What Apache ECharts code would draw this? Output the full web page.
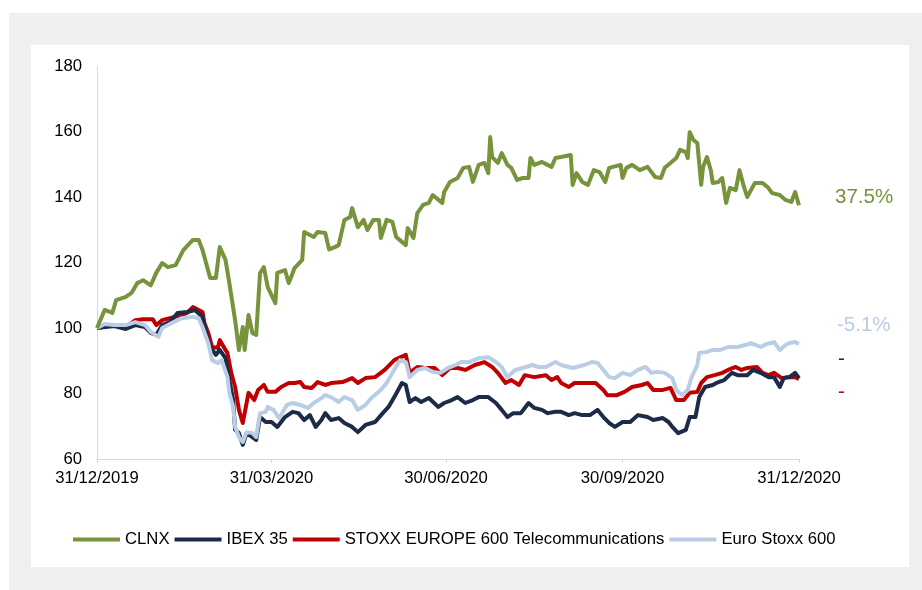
<!DOCTYPE html>
<html>
<head>
<meta charset="utf-8">
<title>CLNX vs indices 2020</title>
<script src="https://cdn.jsdelivr.net/npm/echarts@6/dist/echarts.min.js"></script>
<style>
    html, body { margin: 0; padding: 0; background: #fff; }
    #perfChart { width: 922px; height: 590px; }
</style>
</head>
<body>
<div id="perfChart"></div>
<script>
// x = days since 31/12/2019, y = rebased to 100
var tickDays = [0, 91, 182, 274, 366];
var tickLabels = ['31/12/2019', '31/03/2020', '30/06/2020', '30/09/2020', '31/12/2020'];
var seriesNames = ['CLNX', 'IBEX 35', 'STOXX EUROPE 600 Telecommunications', 'Euro Stoxx 600'];
var endLabels = ['37.5%', '-5.1%'];

var clnx = [[0,100],[4,105.5],[8,104.6],[10,108.5],[15,109.5],[18,110.7],[21,113.7],[24,114.6],[28,113],[31,117],
    [34,119.8],[37,118.6],[41,119.2],[45,123.8],[50,126.9],[53,126.9],[55,123.8],[59,115.3],[62,115.3],[64,124.7],
    [67,120.8],[69,113.7],[72,102.4],[74,93.3],[76,100.3],[77,93.3],[79,104],[81,98.5],[83,97.9],[85,116.8],
    [87,118.6],[89,112.5],[93,107.6],[94,116.8],[98,117.7],[100,113.7],[103,118.3],[107,120.8],[108,129.3],[113,127.8],
    [115,129.3],[119,129],[121,124],[124,124.7],[126,125.3],[129,133],[132,133.9],[133,136.6],[136,130.8],[139,133],
    [141,129.9],[144,133],[147,133],[148,127.5],[151,133],[154,132.4],[156,127.8],[161,125.3],[162,130.5],[165,127.5],
    [167,135.1],[170,137.6],[173,138.2],[175,140.6],[180,138.2],[181,141.5],[184,144.6],[188,145.8],[191,148.9],[194,149.2],
    [196,144.6],[199,149.8],[202,150.4],[204,147.3],[205,158.3],[206,152.2],[209,150.4],[211,153.4],[214,149.8],[216,148.9],
    [219,145.2],[222,145.8],[225,145.8],[226,151.9],[228,149.8],[232,150.7],[237,149.2],[239,151.9],[242,152.2],[247,152.8],
    [248,143.7],[250,147.3],[253,144.6],[256,143.7],[259,148.2],[262,147.6],[265,144.6],[267,148.9],[273,149.8],[274,145.8],
    [276,148.9],[279,149.8],[283,148.2],[287,149.2],[291,146.1],[294,145.8],[296,148.9],[299,150.4],[302,151.9],[304,154.4],
    [307,153.7],[308,151.9],[309,159.8],[311,157.4],[313,156.5],[315,143.7],[316,149.2],[318,152.2],[320,148.2],[321,144.3],
    [324,144.6],[326,145.8],[328,138.2],[330,142.8],[333,142.1],[335,148.2],[337,143.7],[339,140],[343,144.3],[347,144.3],
    [350,142.8],[352,141.2],[356,140.6],[359,139.1],[362,138.5],[364,141.5],[366,137.5]];

var ibex = [[0,100],[9,100.6],[15,99.7],[20,100.9],[25,100.3],[28,98.5],[31,97.9],[34,100.9],[38,101.8],[42,104.6],
    [47,104.9],[51,105.5],[55,103.4],[57,98.5],[59,94.2],[62,91.8],[64,93.3],[67,90.8],[69,84.1],[71,78],
    [72,68.9],[74,67.9],[76,64.3],[78,67.9],[81,66.7],[83,65.8],[85,72.8],[88,71.3],[91,71.3],[94,69.8],
    [98,72.8],[102,74.4],[105,74],[108,71.9],[111,73.4],[114,69.8],[117,71.9],[119,74],[122,71.9],[126,72.5],
    [129,71],[133,69.8],[136,68.2],[140,70.4],[145,71.3],[149,74],[152,75.9],[155,78.9],[159,83.2],[161,82.6],
    [163,77.4],[166,78.6],[169,77.4],[173,78.6],[178,75.9],[181,77.1],[185,78],[188,78.9],[192,77.1],[196,78],
    [199,78.9],[204,78.9],[208,77.1],[211,75],[214,72.8],[217,74],[221,74],[225,77.1],[228,75.6],[232,75],
    [235,74],[239,74.4],[242,74.4],[246,73.4],[249,74],[253,73.4],[257,73.4],[261,75],[264,72.8],[267,71],
    [270,69.8],[274,71.3],[278,71.3],[282,73.4],[287,72.8],[290,71.9],[295,72.5],[298,71.3],[300,69.8],[303,67.9],
    [307,68.9],[309,72.8],[312,72.8],[314,78.9],[317,82],[321,82.6],[324,83.5],[327,84.1],[331,86.3],[334,85.6],
    [339,85.6],[342,87.2],[346,86.3],[350,85],[353,85],[356,82],[358,84.7],[361,85],[364,86.3],[366,84.7]];

var stoxxTelecom = [[0,100],[9,100.9],[15,100.3],[20,102.4],[24,102.7],[29,102.7],[31,100.9],[34,102.4],[38,103],[44,103.9],
    [47,104.6],[50,106.4],[53,105.5],[55,104.9],[56,101.5],[58,98.5],[60,94.2],[63,93.9],[64,96.3],[67,93.3],
    [68,92.4],[70,86.3],[72,82],[74,75],[76,71],[77,74],[79,80.2],[82,78],[84,81.1],[87,82.6],
    [89,80.5],[93,80.5],[96,82],[100,83.2],[103,83.2],[106,83.5],[108,82],[112,81.7],[115,83.5],[119,82.6],
    [122,83.2],[128,83.5],[133,84.7],[136,83.2],[140,84.7],[145,85],[150,87.2],[155,90.2],[161,91.8],[163,86.3],
    [167,88.1],[171,87.8],[176,87.8],[180,85.6],[184,87.8],[188,87.8],[192,87.2],[197,88.7],[202,89.6],[206,88.1],
    [209,86.3],[213,83.2],[216,84.1],[220,82.6],[223,85.6],[228,85],[234,85.6],[237,84.1],[240,85],[242,83.2],
    [246,82],[249,83.2],[254,83.2],[260,83.2],[264,81.1],[266,79.5],[271,79.5],[275,80.5],[279,82],[284,82.6],
    [287,83.2],[290,81.1],[295,81.1],[299,81.7],[302,78],[306,78],[309,80.2],[313,80.5],[315,83.2],[318,85],
    [322,85.6],[326,86.3],[329,87.2],[333,88.1],[336,87.2],[339,87.8],[344,88.1],[347,86.3],[350,85.6],[353,86.3],
    [357,84.7],[360,85],[364,85],[366,84.4]];

var euroStoxx = [[0,100],[4,101.2],[9,100.9],[15,100.9],[20,101.8],[25,100.9],[28,98.8],[32,97.3],[34,100],[39,101.5],
    [44,103],[50,103.4],[53,103],[55,100.3],[58,95.4],[60,90.2],[63,89.3],[65,90.2],[68,85],[69,80.2],
    [71,75.9],[72,69.8],[74,66.7],[76,65.2],[78,68.2],[81,67.9],[83,66.7],[85,74],[88,74.4],[89,75.9],
    [92,75],[95,72.5],[99,76.5],[102,77.1],[106,76.5],[110,75.6],[113,77.1],[117,78.6],[119,79.5],[122,78.9],
    [126,77.4],[129,78.9],[133,78],[136,75],[140,76.5],[143,78.6],[148,81.1],[151,83.2],[154,86.3],[158,90.2],
    [161,89.6],[163,85],[167,87.2],[171,87.8],[175,86.6],[179,86.3],[183,87.8],[187,88.7],[190,89.6],[194,89.6],
    [199,90.8],[204,91.1],[208,89.6],[211,88.1],[214,85],[218,87.2],[222,87.8],[227,88.7],[230,88.1],[234,88.1],
    [239,89.6],[242,88.7],[248,87.8],[254,88.7],[258,89.6],[261,89.3],[264,87.2],[267,85],[270,84.7],[274,86.3],
    [278,85.6],[282,87.2],[286,88.1],[289,86.3],[292,86.6],[296,86.3],[300,84.7],[302,81.1],[305,79.5],[308,81.1],
    [310,85],[313,88.7],[314,92.4],[318,92.7],[321,93.3],[325,93.3],[329,94.2],[334,94.2],[338,94.8],[341,95.4],
    [346,94.2],[349,95.1],[353,95.7],[356,93.3],[359,94.8],[361,95.4],[364,95.7],[366,95.1]];

(function() {
    var GREEN = '#77933c', NAVY = '#1b2b48', RED = '#c00000', LIGHT = '#b9cde5';
    var FONT = '"Liberation Sans", Arial, sans-serif';
    var axisGrey = '#d9d9d9';

    function lineSeries(name, data, color) {
        return {
            name: name,
            type: 'line',
            data: data,
            symbol: 'none',
            smooth: false,
            lineStyle: { color: color, width: 4, join: 'round' },
            itemStyle: { color: color }
        };
    }

    var myChart = echarts.init(document.getElementById('perfChart'), null, { renderer: 'canvas' });

    var option = {
        animation: false,
        backgroundColor: '#ffffff',
        textStyle: { fontFamily: FONT },
        graphic: [
            // grey frame + white panel
            { type: 'rect', z: -10, shape: { x: 9, y: 13, width: 913, height: 577 }, style: { fill: '#efefef' } },
            { type: 'rect', z: -9, shape: { x: 31, y: 45, width: 878, height: 522 }, style: { fill: '#ffffff' } },
            { type: 'text', x: 835, y: 197, style: { text: endLabels[0], fill: GREEN, font: '20.5px ' + FONT, verticalAlign: 'middle' } },
            { type: 'text', x: 837, y: 325, style: { text: endLabels[1], fill: LIGHT, font: '20.5px ' + FONT, verticalAlign: 'middle' } },
            { type: 'text', x: 838, y: 359.5, style: { text: '-', fill: NAVY, font: '20.5px ' + FONT, verticalAlign: 'middle' } },
            { type: 'text', x: 838, y: 392.5, style: { text: '-', fill: RED, font: '20.5px ' + FONT, verticalAlign: 'middle' } }
        ],
        grid: { left: 97, right: 123, top: 66, bottom: 131, containLabel: false },
        legend: {
            data: seriesNames,
            icon: 'rect',
            left: 68,
            top: 526,
            itemWidth: 47,
            itemHeight: 4,
            itemGap: 5,
            textStyle: { fontFamily: FONT, fontSize: 16.7, color: '#000' }
        },
        xAxis: {
            type: 'value',
            min: 0,
            max: 366,
            splitLine: { show: false },
            axisLine: { show: true, lineStyle: { color: axisGrey, width: 1 } },
            axisTick: { show: true, length: 4, lineStyle: { color: axisGrey }, customValues: tickDays },
            axisLabel: {
                customValues: tickDays,
                margin: 11,
                color: '#000',
                fontFamily: FONT,
                fontSize: 16.7,
                formatter: function(v) {
                    var i = tickDays.indexOf(v);
                    return i >= 0 ? tickLabels[i] : '';
                }
            }
        },
        yAxis: {
            type: 'value',
            min: 60,
            max: 180,
            interval: 20,
            splitLine: { show: false },
            axisLine: { show: true, lineStyle: { color: axisGrey, width: 1 } },
            axisTick: { show: false },
            axisLabel: { margin: 15, color: '#000', fontFamily: FONT, fontSize: 16.7 }
        },
        // drawing order: red, navy, light blue, green on top
        series: [
            lineSeries(seriesNames[2], stoxxTelecom, RED),
            lineSeries(seriesNames[1], ibex, NAVY),
            lineSeries(seriesNames[3], euroStoxx, LIGHT),
            lineSeries(seriesNames[0], clnx, GREEN)
        ]
    };

    myChart.setOption(option);
})();
</script>
</body>
</html>
